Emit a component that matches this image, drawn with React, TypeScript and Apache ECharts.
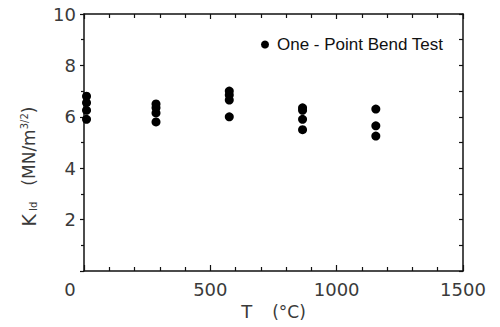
import React, { useEffect, useRef } from "react";
import * as echarts from "echarts";

// Temperatures (°C) of the test groups
const temps = [10, 285, 575, 865, 1155];
// K_Id values (MN/m^3/2) read for each temperature group
const k20 = [6.8, 6.55, 6.25, 5.9];
const k285 = [6.5, 6.35, 6.15, 5.8];
const k575 = [7.0, 6.85, 6.65, 6.0];
const k865 = [6.35, 6.25, 5.9, 5.5];
const k1155 = [6.3, 5.65, 5.25];
const groups = [k20, k285, k575, k865, k1155];

const seriesName = "One - Point Bend Test";
const xTicks = [0, 500, 1000, 1500];
const yTicks = [2, 4, 6, 8, 10];

const tickFont = "DejaVu Sans";
const ink = "#111";
const textInk = "#3a3a3a";
const w = "normal";

export default function App() {
  const ref = useRef<HTMLDivElement>(null);
  useEffect(() => {
    if (!ref.current) return;
    const chart = echarts.init(ref.current, null, { renderer: "svg" });
    const data: number[][] = [];
    temps.forEach((t, i) => groups[i].forEach((v) => data.push([t, v])));

    const axisLine = { show: true, onZero: false, lineStyle: { color: ink, width: 1.5 } };
    const tickLabel = {
      fontFamily: tickFont,
      fontWeight: w as any,
      fontSize: 18,
      color: textInk,
    };

    chart.setOption({
      animation: false,
      grid: { left: 84, right: 37, top: 14, bottom: 56 },
      legend: {
        data: [seriesName],
        left: 256,
        top: 31,
        icon: "circle",
        itemWidth: 14,
        itemHeight: 8,
        itemGap: 5,
        itemStyle: { color: "#000", opacity: 1 },
        textStyle: { fontFamily: "Liberation Sans", fontSize: 17, color: ink },
      },
      xAxis: [
        {
          type: "value",
          position: "bottom",
          min: 0,
          max: 1500,
          interval: 500,
          axisLine,
          axisTick: { show: true, inside: true, length: 6, lineStyle: { color: ink, width: 1.2 } },
          minorTick: { show: true, splitNumber: 5, length: 4, lineStyle: { color: ink, width: 1.2 } },
          splitLine: { show: false },
          axisLabel: {
            ...tickLabel,
            margin: 9,
            formatter: (v: number) =>
              xTicks.includes(v) ? (v === 0 ? "{z|0}" : String(v)) : "",
            rich: { z: { ...tickLabel, padding: [0, 28, 0, 0] } },
          },
          name: "{a|T}{b|(°C)}",
          nameLocation: "middle",
          nameGap: 30,
          nameTextStyle: {
            rich: {
              a: { fontFamily: tickFont, fontWeight: w, fontSize: 18, color: textInk },
              b: { fontFamily: tickFont, fontWeight: w, fontSize: 17, color: textInk, padding: [0, 0, 0, 20] },
            },
          },
        },
        {
          type: "value",
          position: "top",
          min: 0,
          max: 1500,
          interval: 500,
          axisLine,
          axisTick: { show: true, inside: true, length: 5, lineStyle: { color: ink, width: 1.2 } },
          minorTick: { show: true, splitNumber: 5, length: 4, lineStyle: { color: ink, width: 1.2 } },
          splitLine: { show: false },
          axisLabel: { show: false },
        },
      ],
      yAxis: [
        {
          type: "value",
          position: "left",
          min: 0,
          max: 10,
          interval: 2,
          axisLine,
          axisTick: { show: true, inside: false, length: 4, lineStyle: { color: ink, width: 1.2 } },
          minorTick: { show: true, splitNumber: 2, length: 3, lineStyle: { color: ink, width: 1.2 } },
          splitLine: { show: false },
          axisLabel: {
            ...tickLabel,
            margin: 8,
            formatter: (v: number) => (yTicks.includes(v) ? String(v) : ""),
          },
          name: "{k|K}{s|Id}{u|(MN/m}{p|3/2}{u|)}",
          nameLocation: "middle",
          nameRotate: 90,
          nameGap: 46,
          nameTextStyle: {
            padding: [0, 48, 0, 0],
            rich: {
              k: { fontFamily: tickFont, fontWeight: w, fontSize: 19, color: textInk, padding: [0, 3, 0, 0] },
              s: { fontFamily: tickFont, fontWeight: w, fontSize: 10, color: textInk, verticalAlign: "bottom", padding: [0, 16, 0, 0] },
              u: { fontFamily: tickFont, fontWeight: w, fontSize: 17, color: textInk },
              p: { fontFamily: tickFont, fontWeight: w, fontSize: 10, color: textInk, verticalAlign: "top" },
            },
          },
        },
        {
          type: "value",
          position: "right",
          min: 0,
          max: 10,
          interval: 2,
          axisLine,
          axisTick: { show: true, inside: true, length: 4, lineStyle: { color: ink, width: 1.2 } },
          minorTick: { show: true, splitNumber: 2, length: 4, lineStyle: { color: ink, width: 1.2 } },
          splitLine: { show: false },
          axisLabel: { show: false },
        },
      ],
      series: [
        {
          name: seriesName,
          type: "scatter",
          data,
          symbol: "circle",
          symbolSize: 9,
          itemStyle: { color: "#000", opacity: 1 },
        },
      ],
    });
    return () => chart.dispose();
  }, []);
  return <div ref={ref} style={{ width: 500, height: 327, position: "absolute", left: 0, top: 0 }} />;
}
